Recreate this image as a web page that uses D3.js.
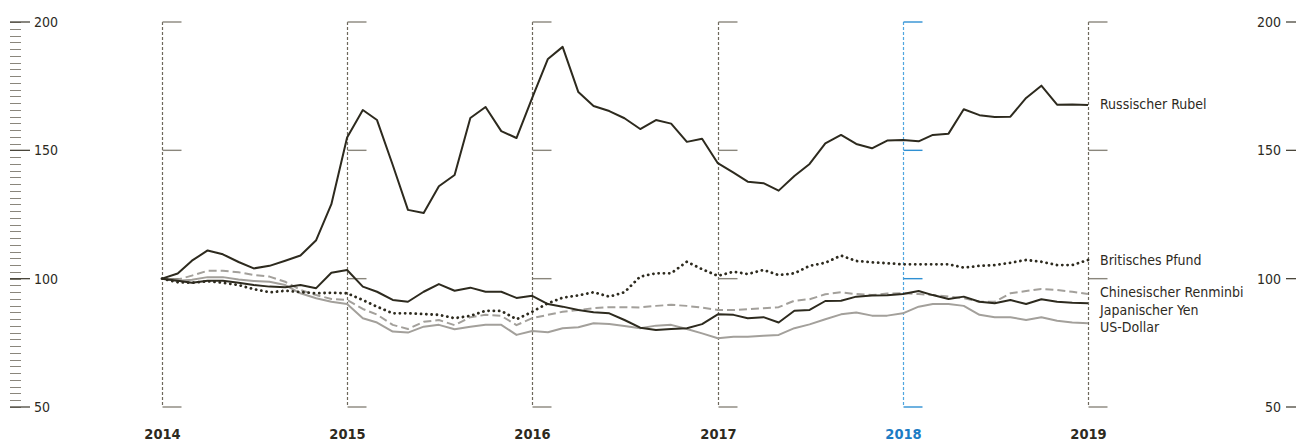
<!DOCTYPE html>
<html>
<head>
<meta charset="utf-8">
<script src="https://cdn.jsdelivr.net/npm/d3@7.9.0/dist/d3.min.js"></script>
<style>
  html, body { margin: 0; padding: 0; background: #fff; }
  svg { display: block; }
  text { font-family: "Liberation Sans Narrow", "DejaVu Sans Condensed", "Roboto", sans-serif; fill: #2d2a1e; }
</style>
</head>
<body>
<svg id="chart" width="1296" height="443"></svg>
<script>
// Monatswerte Jan 2014 – Jan 2019, Index Jan 2014 = 100
const startDate = new Date(2014, 0, 1);
const years = [2014, 2015, 2016, 2017, 2018, 2019];
const highlightYear = 2018;
const yTicks = [50, 100, 150, 200];

const rubel = [100,102,107,111,109.5,106.5,104,105,107,109,115,129,155,165.7,161.8,144.3,126.8,125.6,136,140.4,
  162.6,166.9,157.5,154.8,170.4,185.6,190.3,172.7,167.3,165.3,162.5,158.3,161.8,160.4,153.3,154.5,145,141.3,137.8,137.2,
  134.3,140,144.7,152.7,156,152.5,150.8,153.8,154,153.5,156,156.5,166,163.7,163,163.1,170.4,175.2,167.8,167.9,167.7];
const pfund = [100,98.6,98.4,99,98.4,97.5,95.9,94.7,95.3,94.8,94.3,94.5,94.3,91.7,89.1,86.5,86.5,86.2,85.9,84.6,
  85.5,87.5,87.4,84.2,87.1,90.4,92.6,93.5,94.7,93,94.7,100.8,102.1,102.1,106.6,103.7,101.1,102.7,101.8,103.4,
  101.4,102.1,105,106.2,109,106.9,106.4,106,105.6,105.6,105.6,105.6,104.3,105,105.3,106.2,107.3,106.6,105.3,105.3,107.3];
const renminbi = [100,99.6,101.2,103.1,103.1,102.5,101.4,100.8,98.8,95.6,93.6,92.1,91.7,88.2,86,82,80.4,83.2,83.9,81.9,
  85,85.9,85.5,81.9,84.6,85.9,87.1,87.8,88.5,88.9,88.9,88.8,89.4,89.8,89.4,88.7,87.8,87.8,88.1,88.5,
  88.9,91.4,92,93.9,94.7,94,93.6,94.2,94.3,94,93.6,93,92.4,91,91,94.3,95.2,96,95.6,94.9,94];
const yen = [100,99.2,98.4,99.2,99.2,98.4,97.5,96.9,96.7,97.5,96.3,102.3,103.4,96.9,94.9,91.7,91,94.9,97.9,95.3,
  96.5,94.9,94.9,92.5,93.3,90.1,89.1,87.8,86.9,86.5,83.9,80.9,80,80.4,80.7,82.3,86.1,85.9,84.6,85,
  82.9,87.5,87.8,91.3,91.4,93,93.4,93.5,94,95.2,93.6,92.1,93,91,90.4,91.7,90.1,92,91,90.6,90.4];
const dollar = [100,99.2,99.6,100.6,100.6,99.7,99.1,98.8,97.5,94.3,92.4,91,90.1,84.6,82.9,79.4,79,81.3,82,80.3,
  81.3,82,82,78.1,79.6,79.1,80.7,81.1,82.6,82.3,81.6,80.7,81.7,82,80.4,78.7,76.8,77.4,77.4,77.8,
  78.1,80.7,82.2,84.2,86.1,86.8,85.6,85.6,86.5,89.1,90.1,90.1,89.4,85.9,85,85,83.9,85,83.6,82.9,82.6];

const seriesNames = ["US-Dollar", "Chinesischer Renminbi", "Japanischer Yen", "Britisches Pfund", "Russischer Rubel"];
const seriesValues = [dollar, renminbi, yen, pfund, rubel];
const seriesStyles = [
  { color: "#a3a09b", width: 2, dash: null, cap: "butt" },
  { color: "#a3a09b", width: 2, dash: "8,4", cap: "butt" },
  { color: "#2d2a1e", width: 2, dash: null, cap: "butt" },
  { color: "#2d2a1e", width: 2.8, dash: "0.1,5.2", cap: "round" },
  { color: "#2d2a1e", width: 2, dash: null, cap: "butt" }
];
const labelNames = ["Russischer Rubel", "Britisches Pfund", "Chinesischer Renminbi", "Japanischer Yen", "US-Dollar"];
const labelY = [104, 260, 292, 309.5, 327];

const svg = d3.select("#chart");
const x = d3.scaleTime().domain([new Date(2014, 0, 1), new Date(2019, 0, 1)]).range([162, 1088]);
const y = d3.scaleLinear().domain([50, 200]).range([407, 22]);
const monthDate = i => d3.timeMonth.offset(startDate, i);

// left axis with minor ticks
const minorTicks = d3.range(0, 57 + 1).map(k => 50 + k * 150 / 57);
const left = svg.append("g");
left.selectAll("line.minor").data(minorTicks).join("line")
  .attr("x1", 10).attr("x2", 21)
  .attr("y1", d => Math.round(y(d)) + 0.5).attr("y2", d => Math.round(y(d)) + 0.5)
  .attr("stroke", "#8a867c").attr("stroke-width", 1);
left.selectAll("line.major").data(yTicks).join("line")
  .attr("x1", 10).attr("x2", 30)
  .attr("y1", d => y(d)).attr("y2", d => y(d))
  .attr("stroke", "#4a463b").attr("stroke-width", 1.3);
left.selectAll("text").data(yTicks).join("text")
  .attr("x", 34).attr("y", d => y(d)).attr("dy", "0.36em")
  .attr("font-size", 14).text(d => d);

// right axis
const right = svg.append("g");
right.selectAll("line").data(yTicks).join("line")
  .attr("x1", 1286).attr("x2", 1296)
  .attr("y1", d => y(d)).attr("y2", d => y(d))
  .attr("stroke", "#4a463b").attr("stroke-width", 1.3);
right.selectAll("text").data(yTicks).join("text")
  .attr("x", 1281).attr("y", d => y(d)).attr("dy", "0.36em")
  .attr("text-anchor", "end").attr("font-size", 14).text(d => d);

// year brackets
const yearG = svg.append("g").selectAll("g").data(years).join("g")
  .attr("transform", d => `translate(${Math.round(x(new Date(d, 0, 1))) + 0.5},0)`);
yearG.append("line")
  .attr("y1", y(200)).attr("y2", y(50))
  .attr("stroke", d => d === highlightYear ? "#4fa6e0" : "#6d685c")
  .attr("stroke-width", 1.2).attr("stroke-dasharray", "3,2");
yearG.selectAll("line.tick").data(d => yTicks.map(v => ({ v, year: d }))).join("line")
  .attr("class", "tick")
  .attr("x1", 0).attr("x2", 19)
  .attr("y1", d => y(d.v)).attr("y2", d => y(d.v))
  .attr("stroke", d => d.year === highlightYear ? "#2f90d3" : "#8a867c")
  .attr("stroke-width", 1.4);
yearG.append("text")
  .attr("y", 439).attr("text-anchor", "middle")
  .attr("font-size", 14.5).attr("font-weight", "bold")
  .style("fill", d => d === highlightYear ? "#1c7cc4" : "#2d2a1e")
  .text(d => d);

// lines
const line = d3.line().x((d, i) => x(monthDate(i))).y(d => y(d));
svg.append("g").selectAll("path").data(seriesValues).join("path")
  .attr("d", d => line(d))
  .attr("fill", "none")
  .attr("stroke", (d, i) => seriesStyles[i].color)
  .attr("stroke-width", (d, i) => seriesStyles[i].width)
  .attr("stroke-dasharray", (d, i) => seriesStyles[i].dash)
  .attr("stroke-linecap", (d, i) => seriesStyles[i].cap)
  .attr("stroke-linejoin", "round");

// labels
svg.append("g").selectAll("text").data(labelNames).join("text")
  .attr("x", 1100).attr("y", (d, i) => labelY[i]).attr("dy", "0.36em")
  .attr("font-size", 14).text(d => d);
</script>
</body>
</html>
